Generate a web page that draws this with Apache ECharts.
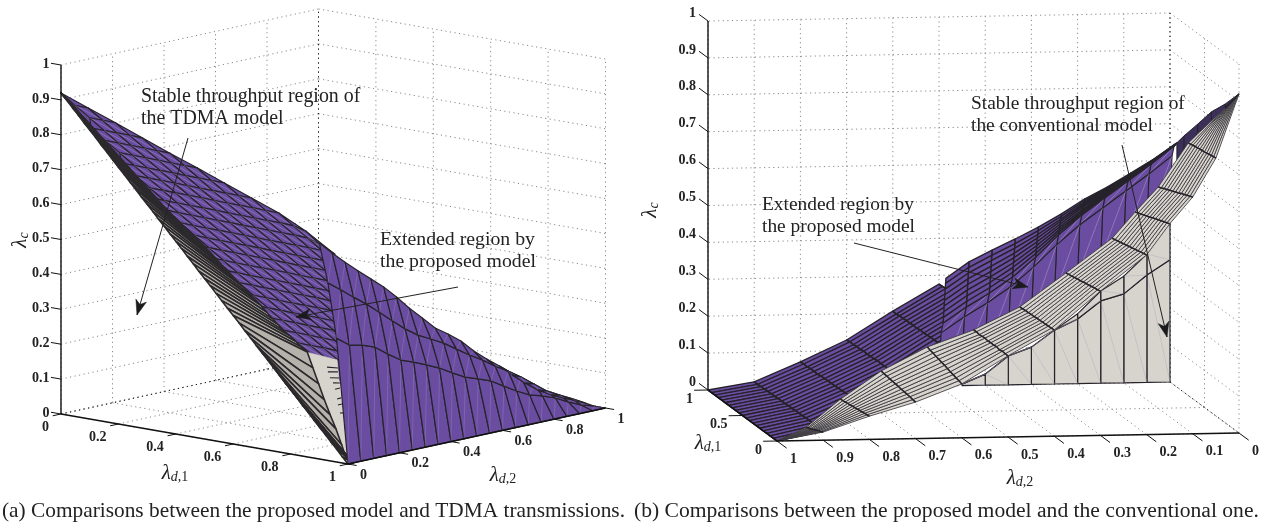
<!DOCTYPE html>
<html><head><meta charset="utf-8">
<style>html,body{margin:0;padding:0;background:#fff}#c{width:1266px;height:527px}</style>
<script src="https://cdn.jsdelivr.net/npm/echarts@6/dist/echarts.min.js"></script>
</head><body><div id="c"></div>
<script>
// ---------- axis ticks ----------
const aLam1Ticks=[0,0.2,0.4,0.6,0.8,1];
const aLam2Ticks=[0,0.2,0.4,0.6,0.8,1];
const aZTicks=[0,0.1,0.2,0.3,0.4,0.5,0.6,0.7,0.8,0.9,1];
const bLam1Ticks=[0,0.5,1];
const bLam2Ticks=[0,0.1,0.2,0.3,0.4,0.5,0.6,0.7,0.8,0.9,1];
const bZTicks=[0,0.1,0.2,0.3,0.4,0.5,0.6,0.7,0.8,0.9,1];
const captions=["(a) Comparisons between the proposed model and TDMA transmissions.","(b) Comparisons between the proposed model and the conventional one."];

// ---------- panel (a): right-hand purple sheet ----------
const aSheetLam1=[1,0.96,0.93,0.90];
const aSheetLam2=[0,0.05,0.1,0.15,0.2,0.25,0.3,0.35,0.4,0.45,0.5,0.55,0.6,0.65,0.7,0.75,0.8,0.85,0.9,0.95,1];
const aSheetZ=[
[0,0,0,0,0,0,0,0,0,0,0,0,0,0,0,0,0,0,0,0,0],
[.355,.327,.319,.305,.277,.252,.238,.222,.205,.183,.163,.150,.136,.113,.091,.072,.061,.047,.028,.011,0],
[.509,.481,.452,.424,.393,.360,.329,.303,.284,.264,.239,.214,.192,.166,.144,.119,.091,.063,.043,.024,.004],
[.619,.582,.548,.515,.484,.453,.416,.376,.340,.303,.278,.250,.213,.182,.154,.120,.089,.061,.039,.022,.006]];

// ---------- panel (a): left purple sheet; each row starts at aFineStart[i] steps along lambda_d2 ----------
const aFineStepLam=0.05;
const aFineStart=[0,0,0,-1,-1,-1,-2,-2,-2,-3,-3,-3,-4,-4,-5,-5,-5,-6,-6,-6,-7,-7,-7,-7,-7];
const aFineZ=[
[.920],
[.891,.876],
[.863,.848,.833],
[.849,.834,.819,.804,.788],
[.820,.805,.790,.775,.759,.744],
[.792,.777,.762,.747,.731,.716,.701],
[.778,.763,.748,.733,.718,.702,.687,.672,.657],
[.749,.734,.719,.704,.689,.673,.658,.643,.628,.613],
[.721,.706,.691,.676,.661,.645,.630,.615,.600,.584,.569],
[.708,.692,.677,.662,.647,.632,.616,.601,.586,.571,.556,.540,.516],
[.680,.664,.649,.634,.619,.604,.588,.573,.558,.543,.528,.512,.484,.453],
[.651,.635,.620,.605,.590,.575,.559,.544,.529,.514,.499,.483,.465],
[.637,.622,.606,.591,.576,.561,.546,.530,.515,.500,.485,.470,.454],
[.609,.594,.578,.563,.548,.533,.518,.502,.487,.472,.457,.442,.426],
[.595,.580,.565,.549,.534,.519,.504,.489,.473,.458,.443,.428],
[.566,.551,.536,.520,.505,.490,.475,.460,.444,.429,.414],
[.538,.523,.508,.492,.477,.462,.447,.432,.416,.401],
[.524,.509,.494,.479,.463,.448,.433,.418,.403,.387],
[.495,.480,.465,.450,.434,.419,.404,.389,.374],
[.467,.452,.437,.422,.406,.391,.376,.361],
[.453,.438,.423,.408,.393,.377,.362,.347],
[.424,.409,.394,.379,.364,.348,.333],
[.396,.381,.366,.351,.336,.320],
[.367,.352,.337,.322,.307],
[.338,.323,.308]];

// ---------- panel (a): grey band ----------
const aBandLam1=[0,.02,.04,.06,.08,.1,.12,.14,.16,.18,.2,.22,.24,.26,.28,.3,.32,.34,.36,.38,.4,.42,.44,.46,.48,.5,.52,.54,.56,.58,.6,.62,.64,.66,.68,.7,.72,.74,.76,.78,.8,.82,.84,.86,.88,.9,.92,.94,.96,.98,1];
const aBandEdgeZ=[.92,.902,.883,.865,.846,.828,.810,.791,.773,.754,.736,.718,.699,.681,.662,.644,.626,.607,.589,.570,.552,.534,.515,.497,.478,.46,.442,.423,.405,.386,.368,.350,.331,.313,.294,.276,.258,.239,.221,.202,.184,.166,.147,.129,.110,.092,.074,.055,.037,.018,0];
const aBandInnerZ=[.901,.885,.870,.855,.840,.824,.809,.793,.778,.763,.748,.732,.717,.702,.686,.671,.656,.640,.626,.613,.600,.587,.574,.561,.547,.533,.518,.503,.490,.475,.461,.447,.432,.418,.404,.388,.372,.358,.344,.332,.319,.306,.295,.252,.209,.166,.126,.089,.046,0,0];
const aBandInnerLam2=0.02;
const aFacetLam1=[.857,.962,1];
const aFacetZ=[.300,.293,0];
const aTeethLam1Start=[.927,.930,.937,.948,.955,.962,.965,.972];
const aTeethZStart=[.267,.254,.238,.225,.208,.181,.164,.142];
const aTeethLam1End=[.965,.965,.969,.972,.972,.976,.979,.983];
const aTeethZEnd=[.270,.259,.242,.228,.214,.186,.169,.144];

// ---------- panel (b): left purple sheet (rows by lambda_d1, columns by lambda_d2) ----------
const bPurpleLam1=[1,.95,.9,.85,.8,.75,.7,.65,.6,.55,.5,.45,.4,.35,.3,.25,.2,.15,.1,.05,0];
const bPurpleLam2=[1,.9,.8,.7,.6,.5];
const bPurpleZ=[
[0,.020,.072,.129,.205,.276],
[0,.020,.073,.131,.204,.277],
[0,.021,.072,.130,.206,.278],
[0,.021,.074,.132,.206,.277],
[0,.022,.074,.131,.207,.278],
[0,.022,.073,.133,.207,.279],
[0,.022,.075,.132,.208,.279],
[0,.023,.075,.133,.207,.280],
[0,.023,.076,.133,.209,.279],
[0,.023,.076,.135,.208,.280],
[0,.024,.076,.134,.209,.281],
[0,.024,.077,.134,.210,.280],
[0,.025,.077,.135,.210,.281],
[0,.025,.078,.136,.210,.282],
[0,.025,.078,.135,.211,.282],
[0,.026,.078,.136,.211,.283],
[0,.026,.079,.136,.212,.283],
[0,.026,.079,.137,.212,.283],
[0,.027,.080,.137,.213,.284],
[0,.027,.080,.137,.213,.284],
[0,.028,.080,.137,.213,.284]];

// ---------- panel (b): right purple sheet ----------
const bCliffLam1=[.9,.905,.91,.915,.92,.925,.93,.935,.94,.97,1];
const bCliffLam2=[0,.05,.1,.15,.2,.25,.3,.35,.4,.45,.5];
const bCliffZ=[
[.662,.660,.658,.657,.655,.653,.652,.650,.648,.617,.477],
[.619,.617,.614,.612,.610,.607,.605,.602,.600,.569,.429],
[.582,.579,.575,.572,.569,.565,.562,.558,.555,.524,.384],
[.546,.541,.537,.533,.528,.524,.519,.515,.511,.479,.339],
[.514,.508,.502,.496,.490,.483,.477,.471,.465,.434,.294],
[.475,.467,.459,.452,.444,.436,.428,.420,.413,.381,.241],
[.440,.429,.418,.408,.397,.386,.375,.364,.353,.322,.183],
[.409,.395,.382,.368,.355,.341,.328,.314,.300,.269,.130],
[.380,.365,.350,.334,.319,.304,.288,.273,.258,.227,.087],
[.349,.333,.317,.301,.285,.269,.253,.237,.221,.190,.050],
[.306,.291,.275,.259,.243,.227,.211,.195,.179,.148,.008]];
const bTipLam1=[0,.2,.4,.6,.8,.9];
const bTipUpperZ=[.919,.864,.815,.754,.694,.662];
const bTipLowerZ=[.919,.840,.790,.730,.650,.600];

// ---------- panel (b): grey vertical sheet ----------
const bWallLam2=[0,.05,.1,.15,.2,.25,.3,.35,.4,.45];
const bWallZ=[
[0,0,0,0,0,0,0,0,0,0],
[.331,.291,.241,.223,.175,.146,.101,.078,.030,.004],
[.444,.348,.289,.250,.189,.146,.101,.078,.030,.004]];

// ---------- panel (b): grey mesh (columns by lambda_d2, rows across) ----------
const bMeshLam2=[0,.05,.1,.15,.2,.3,.4,.5,.6,.7,.8,.9,1];
const bMeshDepth=[.2,.4,.5,.5,.5,.5,.5,.5,.5,.5,.42,.25,0];
const bMeshZ=[
[.919,.913,.908,.902,.897,.891,.886,.880,.875,.869,.864,.858,.853],
[.746,.745,.744,.743,.741,.740,.739,.738,.737,.736,.735,.733,.732],
[.642,.638,.635,.631,.628,.624,.621,.617,.614,.610,.607,.603,.600],
[.570,.567,.564,.561,.558,.555,.552,.548,.545,.542,.539,.536,.533],
[.487,.485,.483,.481,.479,.477,.475,.473,.471,.469,.467,.465,.463],
[.391,.389,.388,.386,.384,.383,.381,.379,.378,.376,.374,.373,.371],
[.288,.287,.287,.286,.286,.285,.285,.284,.284,.283,.283,.282,.281],
[.220,.220,.221,.219,.222,.220,.221,.220,.222,.221,.220,.222,.221],
[.146,.149,.151,.154,.156,.159,.162,.164,.167,.169,.172,.174,.177],
[.099,.100,.102,.103,.104,.105,.107,.108,.109,.110,.112,.113,.114],
[.063,.062,.061,.060,.059,.058,.057,.056,.055,.054,.053,.052,.051],
[.022,.020,.018,.017,.015,.013,.011,.009,.007,.005,.004,.002,0],
[0,0,0,0,0,0,0,0,0,0,0,0,0]];

// ---------- annotations ----------
const notes=[
 {lines:["Stable throughput region of","the TDMA model"],at:[141,97],from:[188,138],to:[137,315],size:19.9},
 {lines:["Extended region by","the proposed model"],at:[380,240],from:[458,287],to:[296,317],size:19.8},
 {lines:["Extended region by","the proposed model"],at:[762,205],from:[854,243],to:[1028,287],size:19.4},
 {lines:["Stable throughput region of","the conventional model"],at:[971,104],from:[1122,145],to:[1167,337],size:19.4}];

// ---------- views (3-D to page plane) ----------
const viewA={x0:61,y0:414,ax:287,ay:50,bx:257.5,by:-56,zy:349};
const viewB={x0:1239,y0:433,ax:-69,ay:-51,bx:-462,by:8,zy:369};
const P=(v,a,b,z)=>[v.x0+v.ax*a+v.bx*b, v.y0+v.ay*a+v.by*b-v.zy*z];

const INK='#26232b', PURPLE='#6a4ca1', GREY='#d7d4cd';
const SERIF='"Liberation Serif","Times New Roman",serif';
const series=[];
let zOrder=1;
function polySeries(polys,fill,stroke,lw,diag){
  series.push({type:'custom',coordinateSystem:'cartesian2d',silent:true,clip:false,animation:false,z:zOrder++,
    encode:{x:0,y:1},data:polys.map(p=>p[0]),
    renderItem(params,api){
      const pts=polys[params.dataIndex].map(q=>api.coord(q));
      const kids=[{type:'polygon',shape:{points:pts},style:{fill:fill,stroke:stroke,lineWidth:lw,lineJoin:'round'}}];
      if(diag&&pts.length===4)kids.push({type:'polyline',shape:{points:[pts[0],pts[2]]},style:{fill:null,stroke:diag,lineWidth:.6}});
      return {type:'group',children:kids};
    }});
}
function lineSeries(lines,stroke,lw,dash){
  series.push({type:'custom',coordinateSystem:'cartesian2d',silent:true,clip:false,animation:false,z:zOrder++,
    encode:{x:0,y:1},data:lines.map(p=>p[0]),
    renderItem(params,api){
      return {type:'polyline',shape:{points:lines[params.dataIndex].map(q=>api.coord(q))},
        style:{fill:null,stroke:stroke,lineWidth:lw,lineDash:dash||null}};
    }});
}
function textSeries(items){
  series.push({type:'custom',coordinateSystem:'cartesian2d',silent:true,clip:false,animation:false,z:500,
    encode:{x:0,y:1},data:items.map(t=>t.at),
    renderItem(params,api){
      const t=items[params.dataIndex],c=api.coord(t.at);
      return {type:'text',x:c[0],y:c[1],rotation:t.rot||0,
        style:{text:t.text,font:t.font,fill:t.fill||'#222',align:t.align||'left',verticalAlign:'middle',rich:t.rich}};
    }});
}
function gridCells(V){
  const out=[];
  for(let i=0;i<V.length-1;i++)for(let j=0;j<V[0].length-1;j++){
    const q=[V[i][j],V[i+1][j],V[i+1][j+1],V[i][j+1]].filter(Boolean);
    if(q.length>=3)out.push(q);
  }
  return out;
}
// back walls and floor
function box(v,lam1T,lam2T,zT,wallA,wallB){
  const dots=[],dark=[];
  zT.forEach(z=>{dots.push([P(v,wallA,0,z),P(v,wallA,1,z)]);dots.push([P(v,wallA,wallB,z),P(v,1-wallA,wallB,z)]);});
  lam2T.forEach(b=>{dots.push([P(v,wallA,b,0),P(v,wallA,b,1)]);dots.push([P(v,0,b,0),P(v,1,b,0)]);});
  lam1T.forEach(a=>{dots.push([P(v,a,wallB,0),P(v,a,wallB,1)]);dots.push([P(v,a,0,0),P(v,a,1,0)]);});
  dark.push([P(v,wallA,wallB,0),P(v,wallA,wallB,1)]);
  dark.push([P(v,wallA,0,0),P(v,wallA,wallB,0)]);
  dark.push([P(v,wallA,wallB,0),P(v,1-wallA,wallB,0)]);
  lineSeries(dots,'#8a8a8a',1,[1.2,3.4]);
  lineSeries(dark,'#222',1,[1.2,3.4]);
}
box(viewA,aLam1Ticks,aLam2Ticks,aZTicks,0,1);
box(viewB,bLam1Ticks,bLam2Ticks,bZTicks,1,0);

// panel (a) surfaces
(function(){
  const lo=Math.min.apply(null,aFineStart),hi=10;
  const fineAt=(i,j)=>{const z=aFineZ[i][j-aFineStart[i]];return z===undefined?null:P(viewA,i*aFineStepLam,j*aFineStepLam,z);};
  const V=aFineZ.map((row,i)=>{const line=[];for(let j=lo;j<=hi;j++)line.push(fineAt(i,j));return line;});
  // flat purple underlay reaching the band's inner edge
  const under=aBandLam1.slice(0,43).map((a,k)=>P(viewA,a,aBandInnerLam2,aBandInnerZ[k]));
  for(let i=20;i>=0;i--)under.push(fineAt(i,0));
  polySeries([under],PURPLE,PURPLE,.5);
  polySeries(gridCells(V),PURPLE,INK,1.1,'rgba(200,190,225,.5)');
})();
polySeries([aFacetLam1.map((a,i)=>P(viewA,a,0,aFacetZ[i]))],GREY,GREY,.5);
(function(){
  const SKEW=12,N=aBandLam1.length-1;
  const edge=aBandLam1.map((a,k)=>P(viewA,a,0,aBandEdgeZ[k]));
  const inner=aBandLam1.map((a,k)=>P(viewA,a,aBandInnerLam2,aBandInnerZ[k]));
  const cells=[];
  for(let t=0;t<SKEW;t++)cells.push([edge[0],inner[t+1],inner[t]]);
  for(let k=0;k<N;k++)cells.push([edge[k],edge[k+1],inner[Math.min(k+1+SKEW,N)],inner[Math.min(k+SKEW,N)]]);
  polySeries(cells,'#b5b2ac','#2b292b',1.6);
})();
lineSeries(aTeethLam1Start.map((a,i)=>[P(viewA,a,0,aTeethZStart[i]),P(viewA,aTeethLam1End[i],0,aTeethZEnd[i])]),INK,1.1);
polySeries(gridCells(aSheetLam1.map((a,i)=>aSheetLam2.map((b,j)=>P(viewA,a,b,aSheetZ[i][j])))),PURPLE,INK,1.2,'rgba(200,190,225,.35)');

// panel (b) surfaces
polySeries(gridCells(bPurpleLam1.map((a,i)=>bPurpleLam2.map((b,j)=>P(viewB,a,b,bPurpleZ[i][j])))),PURPLE,INK,1.3);
lineSeries(bPurpleLam2.map((b,j)=>bPurpleLam1.map((a,i)=>P(viewB,a,b,bPurpleZ[i][j]))),INK,1.6);
(function(){
  const V=bCliffLam2.map((b,k)=>bCliffLam1.map((a,r)=>P(viewB,a,b,bCliffZ[k][r])));
  polySeries(gridCells(V.map(c=>c.slice(8))),PURPLE,INK,1.1,'rgba(215,205,235,.55)');
  polySeries(gridCells(V.map(c=>c.slice(0,9))),PURPLE,INK,1.35);
})();
polySeries(gridCells([bTipUpperZ,bTipLowerZ].map(zs=>bTipLam1.map((a,i)=>P(viewB,a,0,zs[i])))),'#3c2f5a',INK,1);
polySeries(gridCells(bWallZ.map(zs=>bWallLam2.map((b,j)=>P(viewB,1,b,zs[j])))),GREY,INK,1.2,'rgba(170,165,190,.7)');
polySeries(gridCells(bMeshLam2.map((b,k)=>bMeshZ[k].map((z,r)=>P(viewB,bMeshDepth[k]*r/12,b,z)))),GREY,'#3a373d',.85);
lineSeries(bMeshLam2.map((b,k)=>bMeshZ[k].map((z,r)=>P(viewB,bMeshDepth[k]*r/12,b,z))),INK,1.6);

// axes and ticks
lineSeries([[P(viewA,0,0,0),P(viewA,0,0,1)],[P(viewA,0,0,0),P(viewA,1,0,0)],[P(viewA,1,0,0),P(viewA,1,1,0)]],'#111',1.4);
lineSeries([].concat(
  aZTicks.map(z=>[P(viewA,0,0,z),P(viewA,-.035,0,z)]),
  aLam1Ticks.map(a=>[P(viewA,a,0,0),P(viewA,a,-.032,0)]),
  aLam2Ticks.map(b=>[P(viewA,1,b,0),P(viewA,1.03,b,0)])),'#111',1);
lineSeries([[P(viewB,1,1,0),P(viewB,1,1,1)],[P(viewB,1,1,0),P(viewB,0,1,0)],[P(viewB,0,1,0),P(viewB,0,0,0)]],'#111',1.4);
lineSeries([].concat(
  bZTicks.map(z=>[P(viewB,1,1,z),P(viewB,1.13,1,z)]),
  bLam1Ticks.map(a=>[P(viewB,a,1,0),P(viewB,a,1.03,0)]),
  bLam2Ticks.map(b=>[P(viewB,0,b,0),P(viewB,-.14,b,0)])),'#111',1);

// annotation leaders and arrow heads
lineSeries(notes.map(n=>[n.from,n.to]),'#222',1);
polySeries(notes.map(n=>{
  const dx=n.to[0]-n.from[0],dy=n.to[1]-n.from[1],L=Math.hypot(dx,dy),ux=dx/L,uy=dy/L,len=15,w=5.5;
  return [n.to,[n.to[0]-ux*len-uy*w,n.to[1]-uy*len+ux*w],[n.to[0]-ux*len*.72,n.to[1]-uy*len*.72],[n.to[0]-ux*len+uy*w,n.to[1]-uy*len-ux*w]];
}),'#1b1a1c','#1b1a1c',.5);

// texts
const TICK='bold 14px '+SERIF,texts=[];
const fmt=v=>String(v);
aZTicks.forEach(z=>{const c=P(viewA,0,0,z);texts.push({at:[c[0]-11.5,c[1]-1],text:fmt(z),font:TICK,align:'right'});});
aLam1Ticks.forEach(a=>{const c=P(viewA,a,0,0);texts.push({at:[c[0]-12,c[1]+13],text:fmt(a),font:TICK,align:'right'});});
aLam2Ticks.forEach(b=>{const c=P(viewA,1,b,0);texts.push({at:[c[0]+12,c[1]+11],text:fmt(b),font:TICK});});
bZTicks.forEach(z=>{const c=P(viewB,1,1,z);texts.push({at:[c[0]-12,c[1]-8],text:fmt(z),font:TICK,align:'right'});});
bLam1Ticks.forEach(a=>{const c=P(viewB,a,1,0);texts.push({at:[c[0]-15,c[1]+9],text:fmt(a),font:TICK,align:'right'});});
bLam2Ticks.forEach(b=>{const c=P(viewB,0,b,0);texts.push({at:[c[0]+13,c[1]+18],text:fmt(b),font:TICK});});
const mathRich={l:{font:'italic 21px '+SERIF,fill:'#222'},
  s:{font:'italic 14px '+SERIF,fill:'#222',verticalAlign:'bottom',padding:[8,0,0,0]},
  r:{font:'14px '+SERIF,fill:'#222',verticalAlign:'bottom',padding:[8,0,0,0]}};
[[[175,473],'{s|d}{r|,1}',0],[[503,475],'{s|d}{r|,2}',0],[[708,443],'{s|d}{r|,1}',0],[[1020,478],'{s|d}{r|,2}',0],[[20,240],'{s|c}',Math.PI/2],[[650,210],'{s|c}',Math.PI/2]].forEach(m=>{
  texts.push({at:m[0],text:'{l|λ}'+m[1],font:'italic 21px '+SERIF,rich:mathRich,align:'center',rot:m[2]});
});
notes.forEach(n=>n.lines.forEach((s,i)=>texts.push({at:[n.at[0],n.at[1]+i*21.5],text:s,font:n.size+'px '+SERIF})));
texts.push({at:[2,511],text:captions[0],font:'21.35px '+SERIF});
texts.push({at:[634,511],text:captions[1],font:'21.6px '+SERIF});
textSeries(texts);

const chart=echarts.init(document.getElementById('c'),null,{renderer:'canvas'});
chart.setOption({
  animation:false,backgroundColor:'#fff',
  grid:{left:0,right:0,top:0,bottom:0},
  xAxis:{type:'value',min:0,max:1266,show:false},
  yAxis:{type:'value',min:0,max:527,inverse:true,show:false},
  series:series
});
</script></body></html>
